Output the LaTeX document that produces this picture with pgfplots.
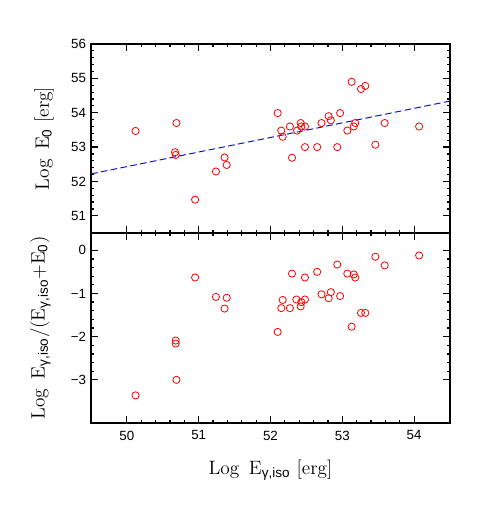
\documentclass[border=0pt]{standalone}
\usepackage{fontspec}
\setsansfont{Liberation Sans}
\usepackage{pgfplots}
\pgfplotsset{compat=1.18}
\pgfplotstableread{
x y
50.12 53.47
50.69 53.70
50.67 52.85
50.68 52.77
50.95 51.47
51.24 52.29
51.36 52.70
51.39 52.48
52.10 53.99
52.15 53.48
52.17 53.30
52.30 52.69
52.27 53.60
52.37 53.48
52.42 53.70
52.43 53.60
52.48 53.60
52.48 53.00
52.65 53.00
52.71 53.70
52.81 53.90
52.84 53.78
52.93 53.00
52.97 53.99
53.07 53.48
53.13 54.90
53.16 53.60
53.18 53.70
53.26 54.69
53.32 54.78
53.46 53.07
53.59 53.70
54.07 53.60
}\toptab
\pgfplotstableread{
x y
50.12 -3.36
50.69 -3.00
50.68 -2.09
50.68 -2.16
50.95 -0.63
51.24 -1.08
51.39 -1.10
51.36 -1.35
52.10 -1.89
52.17 -1.15
52.15 -1.34
52.30 -0.54
52.27 -1.34
52.36 -1.14
52.42 -1.30
52.43 -1.20
52.48 -1.14
52.48 -0.63
52.65 -0.50
52.71 -1.02
52.81 -1.11
52.84 -0.97
52.93 -0.33
52.97 -1.06
53.07 -0.54
53.13 -1.77
53.16 -0.56
53.18 -0.63
53.26 -1.45
53.32 -1.45
53.46 -0.15
53.59 -0.35
54.07 -0.12
}\bottab
\pgfplotsset{
  myax/.style={
    scale only axis, width=269.25pt,
    xmin=49.5, xmax=54.5,
    xtick={50,51,52,53,54},
    minor x tick num=4, minor y tick num=4,
    major tick length=5pt, minor tick length=2.6pt,
    tick style={line width=0.9pt, color=black},
    line width=0.9pt,
    tick label style={font=\sffamily\fontsize{10}{11}\selectfont},
    xticklabel style={yshift=-2pt},
    /pgf/number format/assume math mode=true,
    label style={font=\fontsize{14.5}{16}\selectfont},
  }
}
\begin{document}
\begin{tikzpicture}
\begin{axis}[
  myax,
  at={(0,0)}, anchor=south west,
  height=142.5pt,
  ymin=-4, ymax=0.4,
  ytick={-3,-2,-1,0},
  yticklabels={−3,−2,−1,0},
  xticklabels={50,51,52,53,54},
  xlabel={Log\,\ E\textsubscript{\sffamily γ,iso}\ [erg]},
  ylabel={Log\,\ E\textsubscript{\sffamily γ,iso}/(E\textsubscript{\sffamily γ,iso}+E\textsubscript{\sffamily 0})},
  xlabel style={yshift=-8pt},
  ylabel style={yshift=8pt},
]
\addplot[only marks, mark=o, mark size=2.7pt, red, line width=0.6pt] table[x=x,y=y] {\bottab};
\end{axis}
\begin{axis}[
  myax,
  at={(0,142.5pt)}, anchor=south west,
  height=141.75pt,
  ymin=50.5, ymax=56,
  ytick={51,52,53,54,55,56},
  yticklabels={51,52,53,54,55,56},
  xticklabels={},
  ylabel={Log\,\ E\textsubscript{\sffamily 0}\ [erg]},
  ylabel style={yshift=6pt},
]
\addplot[only marks, mark=o, mark size=2.7pt, red, line width=0.6pt] table[x=x,y=y] {\toptab};
\addplot[blue, dash pattern=on 5pt off 2.5pt, line width=0.7pt] coordinates {(49.5,52.22) (54.5,54.34)};
\end{axis}
\path (-68.25pt,-71.25pt) (300pt,317.25pt);
\end{tikzpicture}
\end{document}
